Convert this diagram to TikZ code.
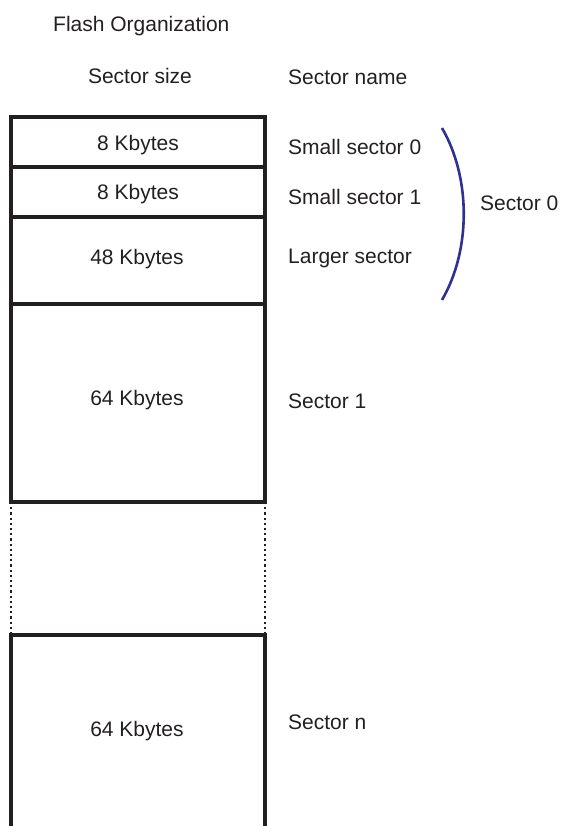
\documentclass[tikz,border=0pt]{standalone}
\usepackage{fontspec}
\setmainfont{Liberation Sans}
\definecolor{ink}{HTML}{231F20}
\definecolor{arcblue}{HTML}{2E3192}
\begin{document}
\begin{tikzpicture}[x=1pt,y=-1pt,
  lbl/.style={inner sep=0pt,anchor=base west,text=ink,font=\fontsize{21}{24}\selectfont},
  sz/.style={inner sep=0pt,anchor=base,text=ink,font=\fontsize{21}{24}\selectfont},
  boxline/.style={draw=ink,line width=3.2pt},
  dotline/.style={draw=ink,line width=2.6pt,dash pattern=on 2.2pt off 3pt}]
\useasboundingbox (0,0) rectangle (560,826);
% titles
\node[lbl] (title) at (53,31.5) {Flash Organization};
\node[sz] (hsize) at (140,83.5) {Sector size};
\node[lbl] (hname) at (288,84.5) {Sector name};
% box corner coordinates
\coordinate (L0) at (11,117); \coordinate (R0) at (265,117);
\coordinate (L1) at (11,167); \coordinate (R1) at (265,167);
\coordinate (L2) at (11,217); \coordinate (R2) at (265,217);
\coordinate (L3) at (11,304); \coordinate (R3) at (265,304);
\coordinate (L4) at (11,502); \coordinate (R4) at (265,502);
\coordinate (L5) at (11,635); \coordinate (R5) at (265,635);
\coordinate (L6) at (11,830); \coordinate (R6) at (265,830);
% solid parts
\draw[boxline] (L4) -- (L0) -- (R0) -- (R4) -- cycle;
\draw[boxline] (L1) -- (R1);
\draw[boxline] (L2) -- (R2);
\draw[boxline] (L3) -- (R3);
\draw[boxline] (L6) -- (L5) -- (R5) -- (R6);
% dotted gap
\draw[dotline] (L4) -- (L5);
\draw[dotline] (R4) -- (R5);
% size labels
\node[sz] (s0) at (138,150.5) {8 Kbytes};
\node[sz] (s1) at (138,199.5) {8 Kbytes};
\node[sz] (s2) at (137,264.5) {48 Kbytes};
\node[sz] (s3) at (137,405.5) {64 Kbytes};
\node[sz] (s4) at (137,736.5) {64 Kbytes};
% name labels
\node[lbl] (n0) at (288,154.5) {Small sector 0};
\node[lbl] (n1) at (288,204.5) {Small sector 1};
\node[lbl] (n2) at (288,263.5) {Larger sector};
\node[lbl] (n3) at (288,408.5) {Sector 1};
\node[lbl] (n4) at (288,729.5) {Sector n};
\node[lbl] (grp) at (480,210.5) {Sector 0};
% bracket arc
\coordinate (atop) at (442,128);
\coordinate (abot) at (442,300);
\draw[arcblue,line width=2.6pt] (atop) .. controls (471,178) and (471,250) .. (abot);
\end{tikzpicture}
\end{document}
